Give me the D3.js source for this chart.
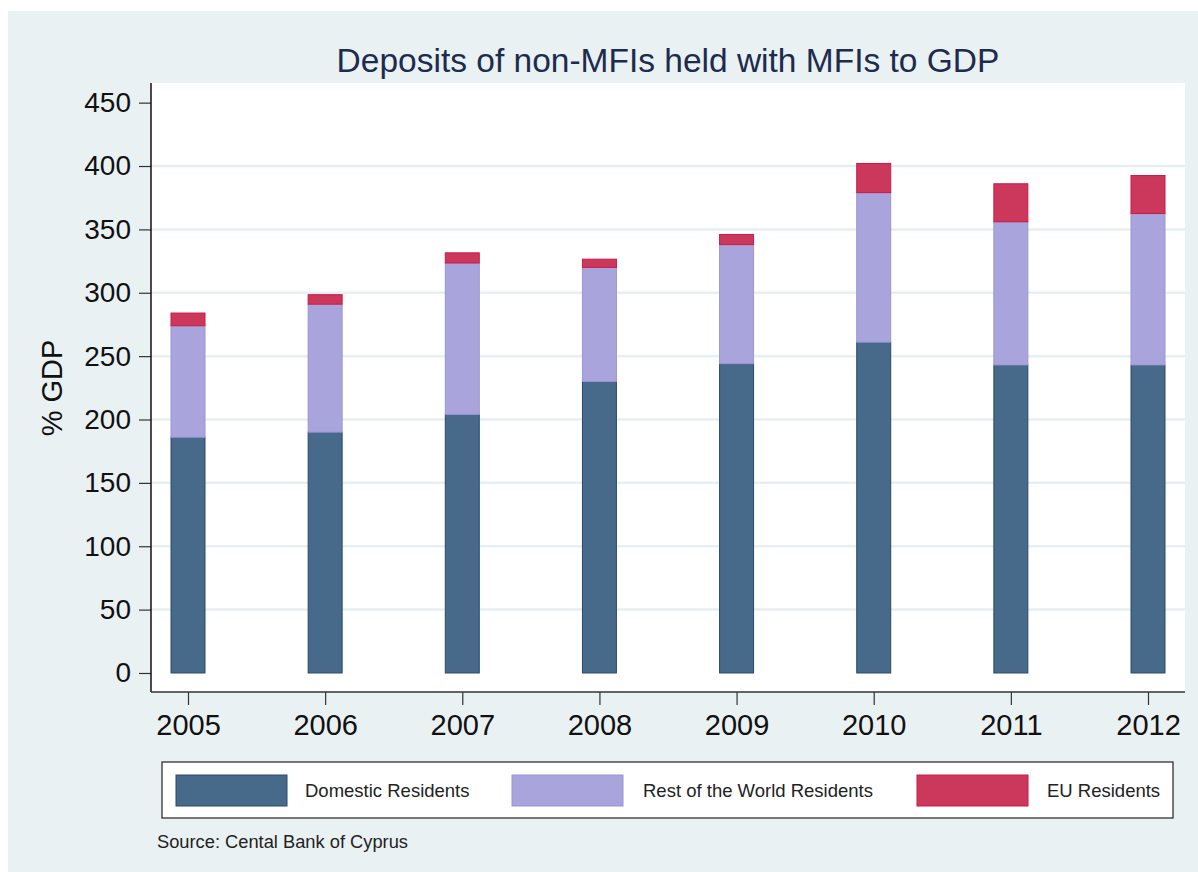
<!DOCTYPE html>
<html>
<head>
<meta charset="utf-8">
<script src="https://cdn.jsdelivr.net/npm/d3@7"></script>
<style>
  body { margin: 0; background: #fff; }
  text { font-family: Arial, "Liberation Sans", sans-serif; }
</style>
</head>
<body>
<div id="chart"></div>
<script>
var years = ["2005", "2006", "2007", "2008", "2009", "2010", "2011", "2012"];
var domestic = [186, 190, 204, 230, 244, 261, 243, 243];
var restWorld = [88, 101, 119.5, 90, 94, 118, 113, 119.5];
var euRes = [10, 7.5, 8, 6.5, 8, 23, 30, 30];
var yTicks = [0, 50, 100, 150, 200, 250, 300, 350, 400, 450];
var seriesNames = ["Domestic Residents", "Rest of the World Residents", "EU Residents"];

var fills = ["#476a8a", "#a9a5dc", "#cc375c"];
var strokes = ["#2b4b6b", "#9a94d6", "#cc1a48"];

var W = 1198, H = 872;
var plot = {left: 151, right: 1185, top: 83, bottom: 692};

var svg = d3.select("#chart").append("svg")
  .attr("width", W)
  .attr("height", H);

// background
svg.append("rect")
  .attr("x", 8).attr("y", 11)
  .attr("width", W - 8).attr("height", H - 11)
  .attr("fill", "#eaf1f3");

svg.append("rect")
  .attr("x", plot.left).attr("y", plot.top)
  .attr("width", plot.right - plot.left)
  .attr("height", plot.bottom - plot.top)
  .attr("fill", "#fff");

var y = d3.scaleLinear().domain([-15, 465.5]).range([plot.bottom, plot.top]);
var x = d3.scalePoint().domain(years).range([188, 1148]);
var barW = 34;

// gridlines
svg.append("g").selectAll("line")
  .data(yTicks.filter(function(d){ return d > 0 && d < 450; }))
  .enter().append("line")
  .attr("x1", plot.left).attr("x2", plot.right)
  .attr("y1", function(d){ return y(d); })
  .attr("y2", function(d){ return y(d); })
  .attr("stroke", "#e6eff1")
  .attr("stroke-width", 2.5);

// stacked data
var table = years.map(function(yr, i){
  return {year: yr, dom: domestic[i], row: restWorld[i], eu: euRes[i]};
});
var stack = d3.stack().keys(["dom", "row", "eu"])(table);

svg.append("g").selectAll("g")
  .data(stack)
  .enter().append("g")
  .attr("fill", function(d, i){ return fills[i]; })
  .attr("stroke", function(d, i){ return strokes[i]; })
  .attr("stroke-width", 1)
  .selectAll("rect")
  .data(function(d){ return d; })
  .enter().append("rect")
  .attr("x", function(d){ return x(d.data.year) - barW / 2; })
  .attr("y", function(d){ return y(d[1]); })
  .attr("width", barW)
  .attr("height", function(d){ return y(d[0]) - y(d[1]); });

// axes
var yAxis = d3.axisLeft(y).tickValues(yTicks).tickSize(12).tickPadding(8);
var gy = svg.append("g")
  .attr("transform", "translate(" + plot.left + ",0)")
  .call(yAxis);
gy.select(".domain").remove();
gy.selectAll(".tick line").attr("stroke", "#333").attr("stroke-width", 1.2);
gy.selectAll(".tick text")
  .attr("font-size", "28px")
  .attr("fill", "#111")
  .attr("font-family", "Arial, 'Liberation Sans', sans-serif");

var xAxis = d3.axisBottom(x).tickSize(13).tickPadding(9);
var gx = svg.append("g")
  .attr("transform", "translate(0," + plot.bottom + ")")
  .call(xAxis);
gx.select(".domain").remove();
gx.selectAll(".tick line").attr("stroke", "#333").attr("stroke-width", 1.2);
gx.selectAll(".tick text")
  .attr("font-size", "29px")
  .attr("fill", "#111")
  .attr("font-family", "Arial, 'Liberation Sans', sans-serif");

svg.append("line")
  .attr("x1", plot.left).attr("x2", plot.left)
  .attr("y1", plot.top).attr("y2", plot.bottom)
  .attr("stroke", "#111").attr("stroke-width", 1.5);
svg.append("line")
  .attr("x1", plot.left).attr("x2", plot.right)
  .attr("y1", plot.bottom).attr("y2", plot.bottom)
  .attr("stroke", "#333").attr("stroke-width", 1.5);

// title
svg.append("text")
  .attr("x", (plot.left + plot.right) / 2)
  .attr("y", 72)
  .attr("text-anchor", "middle")
  .attr("font-size", "33.5px")
  .attr("fill", "#1c2b4e")
  .text("Deposits of non-MFIs held with MFIs to GDP");

// y label
svg.append("text")
  .attr("transform", "translate(62,388) rotate(-90)")
  .attr("text-anchor", "middle")
  .attr("font-size", "29px")
  .attr("fill", "#111")
  .text("% GDP");

// legend
var leg = svg.append("g");
leg.append("rect")
  .attr("x", 162).attr("y", 762)
  .attr("width", 1011).attr("height", 56)
  .attr("fill", "#fff")
  .attr("stroke", "#222").attr("stroke-width", 1.2);

var swX = [176, 512, 917];
var txX = [305, 643, 1047];
seriesNames.forEach(function(name, i){
  leg.append("rect")
    .attr("x", swX[i]).attr("y", 775)
    .attr("width", 111).attr("height", 31)
    .attr("fill", fills[i])
    .attr("stroke", strokes[i]);
  leg.append("text")
    .attr("x", txX[i]).attr("y", 797)
    .attr("font-size", "18.5px")
    .attr("fill", "#222")
    .text(name);
});

svg.append("text")
  .attr("x", 157).attr("y", 848)
  .attr("font-size", "18.3px")
  .attr("fill", "#222")
  .text("Source: Cental Bank of Cyprus");
</script>
</body>
</html>
